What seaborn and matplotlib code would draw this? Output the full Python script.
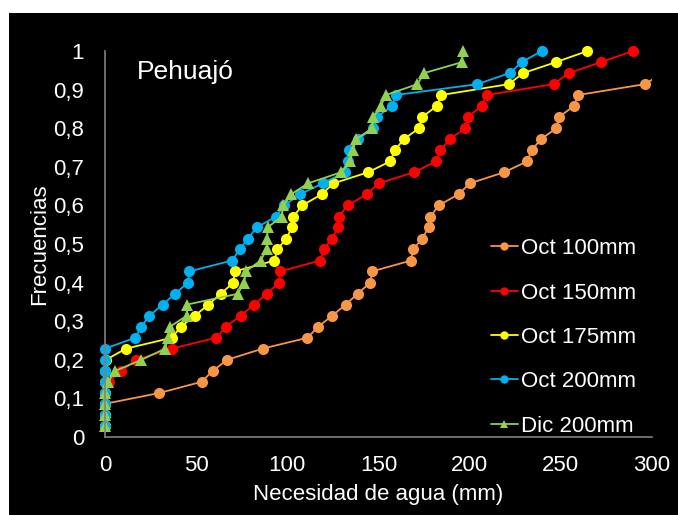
import matplotlib
matplotlib.use("Agg")
import matplotlib.pyplot as plt
import seaborn as sns
import pandas as pd
from matplotlib.patches import Rectangle

# cumulative frequency (shared by every series)
freq = [0.029, 0.057, 0.086, 0.114, 0.143, 0.171, 0.2, 0.229, 0.257, 0.286,
        0.314, 0.343, 0.371, 0.4, 0.429, 0.457, 0.486, 0.514, 0.543, 0.571,
        0.6, 0.629, 0.657, 0.686, 0.714, 0.743, 0.771, 0.8, 0.829, 0.857,
        0.886, 0.914, 0.943, 0.971, 1.0]

oct100 = [0, 0, 0, 29.8, 53, 59, 67, 86.5, 111, 117, 124.5, 132, 138.5, 145.5,
          146.5, 167.7, 169, 174, 177.5, 178.5, 183, 194, 200, 219, 231.5, 234,
          239, 247.5, 249, 257, 259.5, 296, 306, 318, 335]
oct150 = [0, 0, 0, 0, 2, 9, 17, 36.6, 61, 66.4, 74.4, 81.7, 88.7, 95.5, 96,
          118, 120, 124.3, 128, 128.4, 133, 143.7, 150, 169.6, 181.5, 184, 189,
          197.5, 199, 206.5, 209.4, 246, 254.5, 272, 289.6]
oct175 = [0, 0, 0, 0, 0, 0, 0.5, 11.5, 36.6, 41.7, 49.2, 56.7, 63.5, 70.4, 71.2,
          92.9, 94.6, 99.3, 102.7, 103.3, 108.2, 118.9, 125.2, 144.4, 156.3, 159,
          163.8, 172.2, 173.9, 181.9, 184.5, 221.3, 229.5, 247.2, 264.6]
oct200 = [0, 0, 0, 0, 0, 0, 0, 0, 16.5, 20, 24.3, 31.6, 38.4, 45.5, 46.2, 69.5,
          74, 78.3, 83.2, 93.8, 98.2, 107, 119.4, 131.7, 133, 133.8, 138.6, 147.2,
          149, 157.3, 159.4, 204.2, 222, 228.5, 239.5]
dic200 = [0, 0, 0, 0, 1.8, 5.5, 20, 33, 34.7, 35.7, 44.8, 44.9, 72.8, 76.4, 77.2,
          85.3, 88.7, 89, 89.2, 96.9, 97.8, 102.2, 111.2, 129.6, 134.4, 136, 137.6,
          146.5, 147.2, 151.2, 154.1, 171.3, 175.2, 195.7, 196.6]

series_names = ["Oct 100mm", "Oct 150mm", "Oct 175mm", "Oct 200mm", "Dic 200mm"]
series_values = [oct100, oct150, oct175, oct200, dic200]
colors = ["#F79646", "#FF0000", "#FFFF00", "#00B0F0", "#92D050"]
markers = ["o", "o", "o", "o", "^"]

xticks = [0, 50, 100, 150, 200, 250, 300]
yticks = [0, 0.1, 0.2, 0.3, 0.4, 0.5, 0.6, 0.7, 0.8, 0.9, 1]
ytick_labels = ["0", "0,1", "0,2", "0,3", "0,4", "0,5", "0,6", "0,7", "0,8", "0,9", "1"]

sns.set_style("dark")
plt.rcParams["font.family"] = ["Liberation Sans", "DejaVu Sans"]

fig = plt.figure(figsize=(6.78, 5.15), dpi=100, facecolor="white")
bg = Rectangle((9 / 678, 0), 1, 1 - 13 / 515, transform=fig.transFigure,
               facecolor="black", edgecolor="none", zorder=-10)
fig.add_artist(bg)
ax = fig.add_axes([105 / 678, 78 / 515, 547 / 678, 386 / 515])
ax.set_facecolor("black")

for name, vals, col, mk in zip(series_names, series_values, colors, markers):
    df = pd.DataFrame({"x": vals, "y": freq})
    sns.lineplot(data=df, x="x", y="y", estimator=None, sort=False, ax=ax,
                 color=col, marker=mk, markersize=8, markeredgewidth=0,
                 linewidth=1.3, label=name)
    if name != "Oct 100mm":
        ax.lines[-1].set_clip_on(False)

ax.set_xlim(0, 300)
ax.set_ylim(0, 1)
ax.set_xticks(xticks)
ax.set_yticks(yticks)
ax.set_yticklabels(ytick_labels)
ax.grid(False)
for s in ["top", "right"]:
    ax.spines[s].set_visible(False)
for s in ["left", "bottom"]:
    ax.spines[s].set_visible(True)
    ax.spines[s].set_color("#808080")
    ax.spines[s].set_linewidth(1.2)
ax.tick_params(axis="both", colors="#808080", length=7, width=1.2,
               labelcolor="white", labelsize=16, direction="out")
ax.tick_params(axis="x", pad=6)
ax.tick_params(axis="y", pad=8)

ax.set_xlabel("Necesidad de agua (mm)", color="white", fontsize=16, labelpad=6)
ax.set_ylabel("Frecuencias", color="white", fontsize=16, labelpad=2)
ax.text(17.5, 0.945, "Pehuajó", color="white", fontsize=19, va="center", ha="left")

leg = ax.legend(loc="lower right", bbox_to_anchor=(0.987, -0.022), frameon=False,
                fontsize=16, labelspacing=1.05, handlelength=1.2,
                handletextpad=0.15, markerscale=0.75, borderaxespad=0.0)
for t in leg.get_texts():
    t.set_color("white")

fig.savefig("out.png", dpi=100, facecolor="white")
